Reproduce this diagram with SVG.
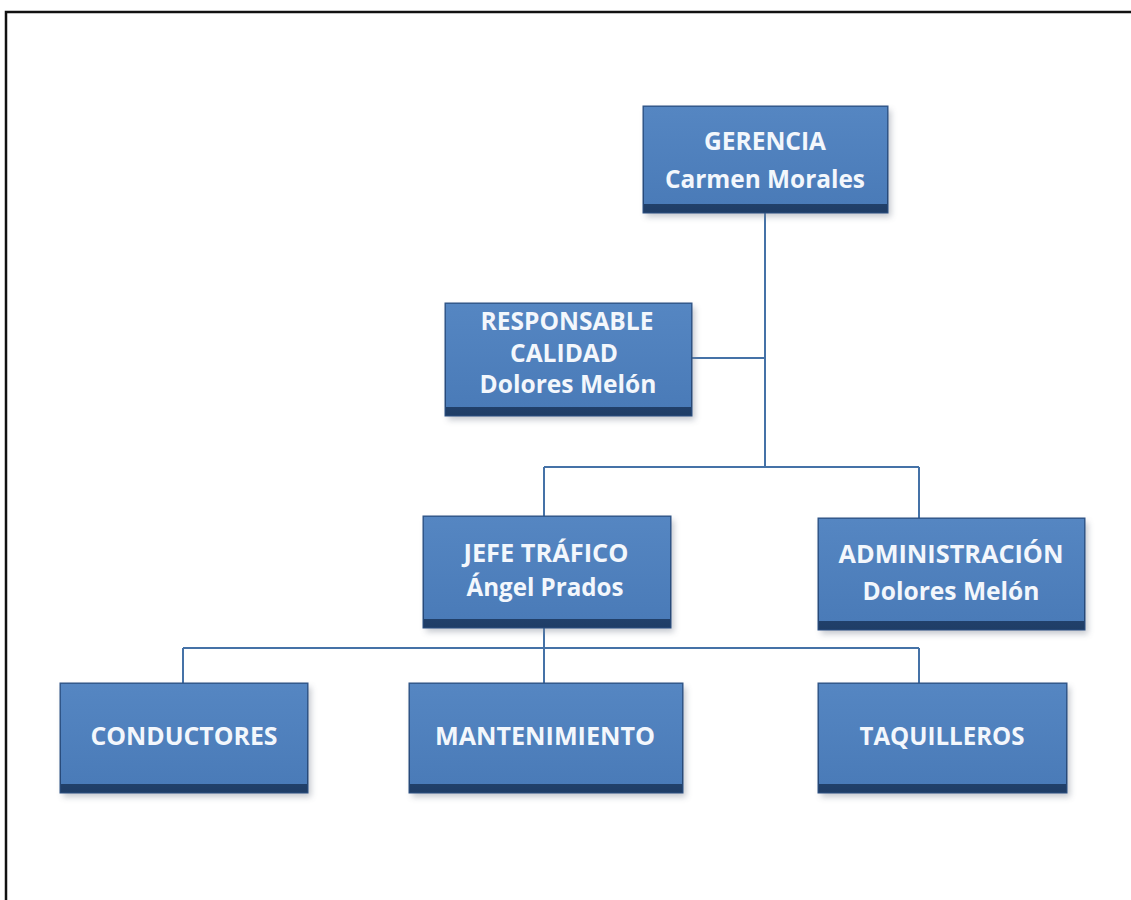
<svg xmlns="http://www.w3.org/2000/svg" width="1131" height="900" viewBox="0 0 1131 900">
<defs>
<linearGradient id="face" x1="0" y1="0" x2="0" y2="1">
<stop offset="0" stop-color="#5586c2"/>
<stop offset="1" stop-color="#4a7bb8"/>
</linearGradient>
<linearGradient id="band" x1="0" y1="0" x2="0" y2="1">
<stop offset="0" stop-color="#3a6497"/>
<stop offset="1" stop-color="#1f3d66"/>
</linearGradient>
<filter id="sh" x="-10%" y="-10%" width="125%" height="130%">
<feGaussianBlur stdDeviation="3"/>
</filter>
</defs>
<style>
.shadow{fill:#7f8794;opacity:0.45;filter:url(#sh)}
.base{fill:url(#band);stroke:#2d5183;stroke-width:1}
.face{fill:url(#face)}
.t{font-family:"Open Sans","Liberation Sans",sans-serif;font-weight:bold;font-size:25.5px;fill:#f3f7fc;text-anchor:middle}
.c{fill:none;stroke:#4572a7;stroke-width:2}
.frame{fill:none;stroke:#111;stroke-width:2.5}
</style>
<rect width="1131" height="900" fill="#fff"/>
<path class="frame" d="M6 900 V12 H1131"/>
<g id="connectors">
<path class="c" d="M765 213 V467"/>
<path class="c" d="M692 358 H765"/>
<path class="c" d="M544 467 H919 M544 467 V516 M919 467 V518"/>
<path class="c" d="M544 628 V683 M183 648 H919 M183 648 V683 M919 648 V683"/>
</g>
<g id="gerencia">
<rect class="shadow" x="646" y="110" width="245" height="107"/>
<rect class="base" x="643" y="106" width="245" height="107"/>
<rect class="face" x="644" y="107" width="243" height="97"/>
<text class="t" x="765" y="150" textLength="122" lengthAdjust="spacingAndGlyphs">GERENCIA</text>
<text class="t" x="765" y="188" textLength="200" lengthAdjust="spacingAndGlyphs">Carmen Morales</text>
</g>
<g id="responsable">
<rect class="shadow" x="448" y="307" width="247" height="113"/>
<rect class="base" x="445" y="303" width="247" height="113"/>
<rect class="face" x="446" y="304" width="245" height="103"/>
<text class="t" x="567" y="330" textLength="173" lengthAdjust="spacingAndGlyphs">RESPONSABLE</text>
<text class="t" x="564" y="362" textLength="108" lengthAdjust="spacingAndGlyphs">CALIDAD</text>
<text class="t" x="568" y="393" textLength="177" lengthAdjust="spacingAndGlyphs">Dolores Melón</text>
</g>
<g id="jefe">
<rect class="shadow" x="426" y="520" width="248" height="112"/>
<rect class="base" x="423" y="516" width="248" height="112"/>
<rect class="face" x="424" y="517" width="246" height="102"/>
<text class="t" x="546" y="562" textLength="165" lengthAdjust="spacingAndGlyphs">JEFE TRÁFICO</text>
<text class="t" x="545" y="596" textLength="157" lengthAdjust="spacingAndGlyphs">Ángel Prados</text>
</g>
<g id="administracion">
<rect class="shadow" x="821" y="522" width="267" height="112"/>
<rect class="base" x="818" y="518" width="267" height="112"/>
<rect class="face" x="819" y="519" width="265" height="102"/>
<text class="t" x="951" y="563" textLength="225" lengthAdjust="spacingAndGlyphs">ADMINISTRACIÓN</text>
<text class="t" x="951" y="600" textLength="177" lengthAdjust="spacingAndGlyphs">Dolores Melón</text>
</g>
<g id="conductores">
<rect class="shadow" x="63" y="687" width="248" height="110"/>
<rect class="base" x="60" y="683" width="248" height="110"/>
<rect class="face" x="61" y="684" width="246" height="100"/>
<text class="t" x="184" y="745" textLength="187" lengthAdjust="spacingAndGlyphs">CONDUCTORES</text>
</g>
<g id="mantenimiento">
<rect class="shadow" x="412" y="687" width="274" height="110"/>
<rect class="base" x="409" y="683" width="274" height="110"/>
<rect class="face" x="410" y="684" width="272" height="100"/>
<text class="t" x="545" y="745" textLength="220" lengthAdjust="spacingAndGlyphs">MANTENIMIENTO</text>
</g>
<g id="taquilleros">
<rect class="shadow" x="821" y="687" width="249" height="110"/>
<rect class="base" x="818" y="683" width="249" height="110"/>
<rect class="face" x="819" y="684" width="247" height="100"/>
<text class="t" x="942" y="745" textLength="165" lengthAdjust="spacingAndGlyphs">TAQUILLEROS</text>
</g>
</svg>
